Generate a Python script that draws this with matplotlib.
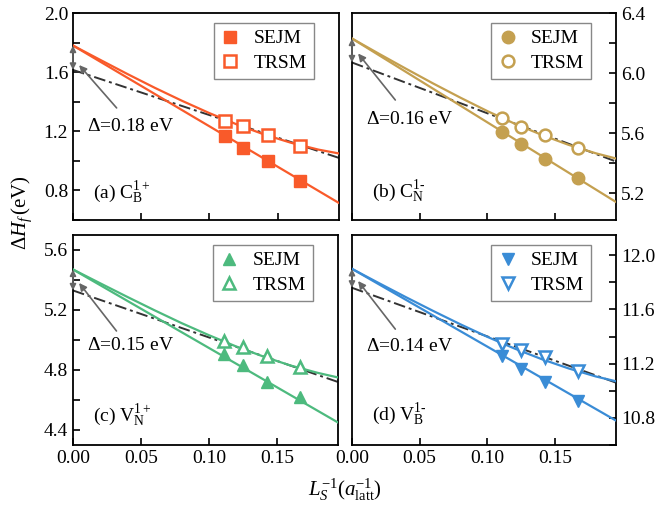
import matplotlib
matplotlib.use("Agg")
import matplotlib.pyplot as plt
from matplotlib.ticker import MultipleLocator, FormatStrFormatter

plt.rcParams['font.family'] = ['Liberation Serif', 'DejaVu Serif']
plt.rcParams['mathtext.fontset'] = 'custom'
plt.rcParams['mathtext.rm'] = 'Liberation Serif'
plt.rcParams['mathtext.it'] = 'Liberation Serif:italic'
plt.rcParams['font.size'] = 14

# supercell sizes 1/L (L = 9, 8, 7, 6)
inv_L = [0.1111, 0.125, 0.1429, 0.1667]

# formation energies
sejm_a = [1.168, 1.087, 1.000, 0.864]
trsm_a = [1.270, 1.236, 1.175, 1.100]
sejm_b = [5.61, 5.53, 5.43, 5.30]
trsm_b = [5.70, 5.64, 5.59, 5.50]
sejm_c = [4.905, 4.83, 4.72, 4.62]
trsm_c = [4.99, 4.95, 4.89, 4.82]
sejm_d = [11.256, 11.16, 11.065, 10.925]
trsm_d = [11.345, 11.30, 11.25, 11.145]

# fitted curves
line_x = [0.0, 0.195]
sejm_fit_a = [1.78, 0.715]
sejm_fit_b = [6.23, 5.14]
sejm_fit_c = [5.47, 4.45]
sejm_fit_d = [11.90, 10.78]
lin_fit_a = [1.615, 1.02]
lin_fit_b = [6.07, 5.41]
lin_fit_c = [5.33, 4.72]
lin_fit_d = [11.76, 11.06]

curve_x = [0.0, 0.02, 0.04, 0.06, 0.08, 0.10, 0.12, 0.14, 0.16, 0.18, 0.195]
trsm_fit_a = [1.78, 1.683, 1.587, 1.494, 1.406, 1.323, 1.247, 1.179, 1.122, 1.076, 1.050]
trsm_fit_b = [6.23, 6.128, 6.028, 5.930, 5.836, 5.746, 5.663, 5.588, 5.521, 5.465, 5.430]
trsm_fit_c = [5.47, 5.378, 5.287, 5.198, 5.112, 5.032, 4.957, 4.890, 4.830, 4.781, 4.750]
trsm_fit_d = [11.90, 11.794, 11.690, 11.589, 11.491, 11.398, 11.312, 11.234, 11.165, 11.106, 11.070]

deltas = ["0.18", "0.16", "0.15", "0.14"]
panel_names = [r"(a) C$_\mathrm{B}^{1+}$", r"(b) C$_\mathrm{N}^{1\text{-}}$",
               r"(c) V$_\mathrm{N}^{1+}$", r"(d) V$_\mathrm{B}^{1\text{-}}$"]
colors = ["#F95A2A", "#C4A050", "#4DBA7E", "#3A8CD6"]
markers = ["s", "o", "^", "v"]
ylims = [(0.6, 2.0), (5.02, 6.4), (4.3, 5.7), (10.6, 12.15)]

# annotation anchors (text y, arrow tail y, arrow tip y, panel label y)
text_y = [1.23, 5.687, 4.96, 11.33]
tail_y = [1.358, 5.82, 5.06, 11.455]
tip_y = [1.648, 6.13, 5.38, 11.81]
label_y = [0.79, 5.21, 4.50, 10.83]

fig = plt.figure(figsize=(6.61, 5.12), dpi=100)
axes = [fig.add_axes([0.1104, 0.5703, 0.4024, 0.4043]),
        fig.add_axes([0.5325, 0.5703, 0.3994, 0.4043]),
        fig.add_axes([0.1104, 0.1309, 0.4009, 0.4102]),
        fig.add_axes([0.5325, 0.1309, 0.3994, 0.4102])]

sejm = [sejm_a, sejm_b, sejm_c, sejm_d]
trsm = [trsm_a, trsm_b, trsm_c, trsm_d]
sejm_fit = [sejm_fit_a, sejm_fit_b, sejm_fit_c, sejm_fit_d]
lin_fit = [lin_fit_a, lin_fit_b, lin_fit_c, lin_fit_d]
trsm_fit = [trsm_fit_a, trsm_fit_b, trsm_fit_c, trsm_fit_d]

for i, ax in enumerate(axes):
    c = colors[i]
    ax.plot(line_x, lin_fit[i], color="#333333", lw=1.4, ls=(0, (6, 2, 1.5, 2)), zorder=2)
    ax.plot(line_x, sejm_fit[i], color=c, lw=1.6, zorder=3)
    ax.plot(curve_x, trsm_fit[i], color=c, lw=1.6, zorder=3)
    ax.plot(inv_L, sejm[i], markers[i], color=c, ms=9, mec=c, label="SEJM", zorder=4)
    ax.plot(inv_L, trsm[i], markers[i], color=c, ms=8.5, mfc="white", mec=c,
            mew=1.8, label="TRSM", zorder=4)

    # double arrow between the two extrapolated values at 1/L = 0
    ax.annotate("", xy=(0.0, sejm_fit[i][0]), xytext=(0.0, lin_fit[i][0]),
                arrowprops=dict(arrowstyle="<|-|>", color="#666666", lw=1.2,
                                mutation_scale=9, shrinkA=0, shrinkB=0), zorder=5)
    ax.annotate("", xy=(0.0045, tip_y[i]), xytext=(0.032, tail_y[i]),
                arrowprops=dict(arrowstyle="-|>", color="#666666", lw=1.2,
                                mutation_scale=11, shrinkA=0, shrinkB=0), zorder=5)
    ax.text(0.010, text_y[i], r"$\Delta$=" + deltas[i] + " eV",
            ha="left", va="center", fontsize=14)
    ax.text(0.0147, label_y[i], panel_names[i], ha="left", va="center", fontsize=14)

    y0, y1 = ylims[i]
    ax.set_xlim(0, 0.195)
    ax.set_ylim(y0, y1)
    ax.xaxis.set_major_locator(MultipleLocator(0.05))
    ax.yaxis.set_major_locator(MultipleLocator(0.4))
    ax.yaxis.set_minor_locator(MultipleLocator(0.2))
    ax.tick_params(which="both", direction="in", length=5, width=1.2, top=False)
    for s in ax.spines.values():
        s.set_linewidth(1.3)
    if i % 2 == 1:
        ax.yaxis.tick_right()
        ax.tick_params(which="both", left=False, right=True)
    else:
        ax.tick_params(which="both", left=True, right=False)
    if i < 2:
        ax.tick_params(labelbottom=False)
    ax.xaxis.set_major_formatter(FormatStrFormatter("%.2f"))
    ax.yaxis.set_major_formatter(FormatStrFormatter("%.1f"))

    leg = ax.legend(loc="upper right", bbox_to_anchor=(0.905, 0.952), borderaxespad=0,
                    fancybox=False, edgecolor="#888888", framealpha=1, handlelength=1.0,
                    handletextpad=0.7, borderpad=0.35, labelspacing=0.35, fontsize=14)
    leg.get_frame().set_linewidth(1.0)

fig.text(0.033, 0.585, r"$\Delta H_f\,$(eV)", rotation=90, ha="center", va="center", fontsize=15)
fig.text(0.522, 0.043, r"$L_S^{\mathrm{-1}}(a_{\mathrm{latt}}^{\mathrm{-1}})$", ha="center",
         va="center", fontsize=15)

fig.savefig("out.png", dpi=100)
